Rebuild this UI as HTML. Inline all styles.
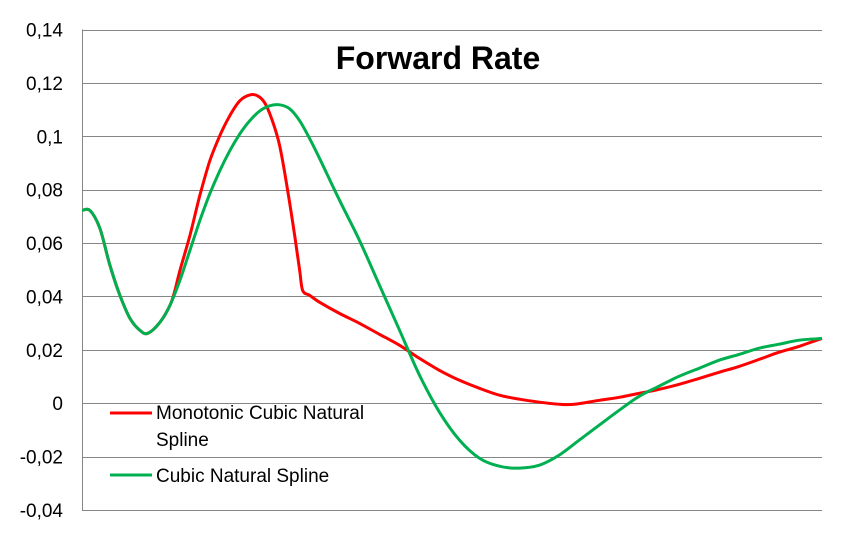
<!DOCTYPE html>
<html><head><meta charset="utf-8"><style>
html,body{margin:0;padding:0;background:#fff;}
svg{display:block;font-family:"Liberation Sans",sans-serif;}
</style></head><body>
<svg id="chart" width="844" height="545" viewBox="0 0 844 545">
<text x="438" y="69" text-anchor="middle" font-size="32" font-weight="bold" fill="#000">Forward Rate</text>
<g id="grid"></g><g id="ylabels"></g><g id="series"></g>
<g>
<line x1="110" y1="413" x2="152" y2="413" stroke="#ff0000" stroke-width="3"/>
<text x="156" y="419" font-size="19" fill="#000">Monotonic Cubic Natural</text>
<text x="156" y="446" font-size="19" fill="#000">Spline</text>
<line x1="110" y1="475" x2="152" y2="475" stroke="#00b050" stroke-width="3"/>
<text x="156" y="482" font-size="19" fill="#000">Cubic Natural Spline</text>
</g>
</svg>
<script>
const yTicks=[0.14,0.12,0.1,0.08,0.06,0.04,0.02,0,-0.02,-0.04];
const yTickLabels=["0,14","0,12","0,1","0,08","0,06","0,04","0,02","0","-0,02","-0,04"];
const greenT=[0,8,18,28,38,48,58,66,78,88,98,108,118,128,138,148,158,168,178,188,198,208,218,228,238,258,278,298,318,338,358,378,398,418,438,458,478,498,518,538,558,578,598,618,638,658,678,698,718,741];
const greenV=[0.0722,0.0722,0.0654,0.0516,0.0404,0.0318,0.0273,0.0262,0.0303,0.0366,0.0460,0.0572,0.0684,0.0785,0.0871,0.0946,0.1009,0.1058,0.1095,0.1114,0.1118,0.1103,0.1058,0.0991,0.0916,0.0759,0.0609,0.0441,0.0273,0.0105,-0.0034,-0.0138,-0.0206,-0.0236,-0.0243,-0.0232,-0.0194,-0.0138,-0.0082,-0.0026,0.0026,0.0064,0.0101,0.0131,0.0161,0.0183,0.0206,0.0221,0.0236,0.0243];
const redT=[0,8,18,28,38,48,58,66,78,88,93,98,108,118,128,138,148,158,168,176,183,190,198,206,213,218,221,228,238,258,278,298,318,338,358,378,398,418,438,458,478,493,518,538,558,578,598,618,638,658,678,698,718,741];
const redV=[0.0722,0.0722,0.0654,0.0516,0.0404,0.0318,0.0273,0.0262,0.0303,0.0366,0.0422,0.0497,0.0628,0.0778,0.0908,0.1002,0.1077,0.1133,0.1155,0.1151,0.1125,0.1065,0.0964,0.0796,0.0628,0.0497,0.0422,0.0404,0.0378,0.0336,0.0299,0.0258,0.0217,0.0168,0.0123,0.0086,0.0056,0.0030,0.0015,0.0004,-0.0004,-0.0004,0.0011,0.0022,0.0037,0.0052,0.0071,0.0093,0.0116,0.0138,0.0164,0.0191,0.0213,0.0243];
const NS="http://www.w3.org/2000/svg";
const X0=82,X1=822,Y0=510,Y1=29.5,TMAX=741,VMIN=-0.04,VMAX=0.14;
function xs(t){return X0+t/TMAX*(X1-X0);}
function ys(v){return Y0-(v-VMIN)/(VMAX-VMIN)*(Y0-Y1);}
const grid=document.getElementById('grid'),yl=document.getElementById('ylabels'),ser=document.getElementById('series');
yTicks.forEach((v,i)=>{
 const y=Math.round(ys(v))+0.5;
 if(v!==VMIN){const l=document.createElementNS(NS,'line');
 
 
 l.setAttribute('x1',X0);l.setAttribute('x2',X1);l.setAttribute('y1',y);l.setAttribute('y2',y);
 l.setAttribute('stroke','#868686');l.setAttribute('stroke-width','1');grid.appendChild(l);}
 const t=document.createElementNS(NS,'text');
 
 
 t.setAttribute('x',63);t.setAttribute('y',ys(v)+7);t.setAttribute('text-anchor','end');
 t.setAttribute('font-size','19');t.textContent=yTickLabels[i];yl.appendChild(t);
});
const ax=document.createElementNS(NS,'path');


ax.setAttribute('d',`M${X0+0.5},${Y1} V${Y0+0.5} H${X1}`);
ax.setAttribute('stroke','#868686');ax.setAttribute('fill','none');grid.appendChild(ax);
function draw(T,V,color,name){
 const P=T.map((t,i)=>[xs(t),ys(V[i])]);
 let d='M'+P[0][0].toFixed(1)+','+P[0][1].toFixed(1);
 for(let i=0;i<P.length-1;i++){
  const p0=P[Math.max(i-1,0)],p1=P[i],p2=P[i+1],p3=P[Math.min(i+2,P.length-1)];
  const c1=[p1[0]+(p2[0]-p0[0])/6,p1[1]+(p2[1]-p0[1])/6];
  const c2=[p2[0]-(p3[0]-p1[0])/6,p2[1]-(p3[1]-p1[1])/6];
  d+=` C${c1[0].toFixed(1)},${c1[1].toFixed(1)} ${c2[0].toFixed(1)},${c2[1].toFixed(1)} ${p2[0].toFixed(1)},${p2[1].toFixed(1)}`;
 }
 const p=document.createElementNS(NS,'path');
 
 
 p.setAttribute('d',d);
 p.setAttribute('fill','none');p.setAttribute('stroke',color);p.setAttribute('stroke-width','3');p.setAttribute('stroke-linejoin','round');
 ser.appendChild(p);
}
draw(redT,redV,'#ff0000','monotonic-cubic-spline-line');
draw(greenT,greenV,'#00b050','cubic-natural-spline-line');
</script>
</body></html>
